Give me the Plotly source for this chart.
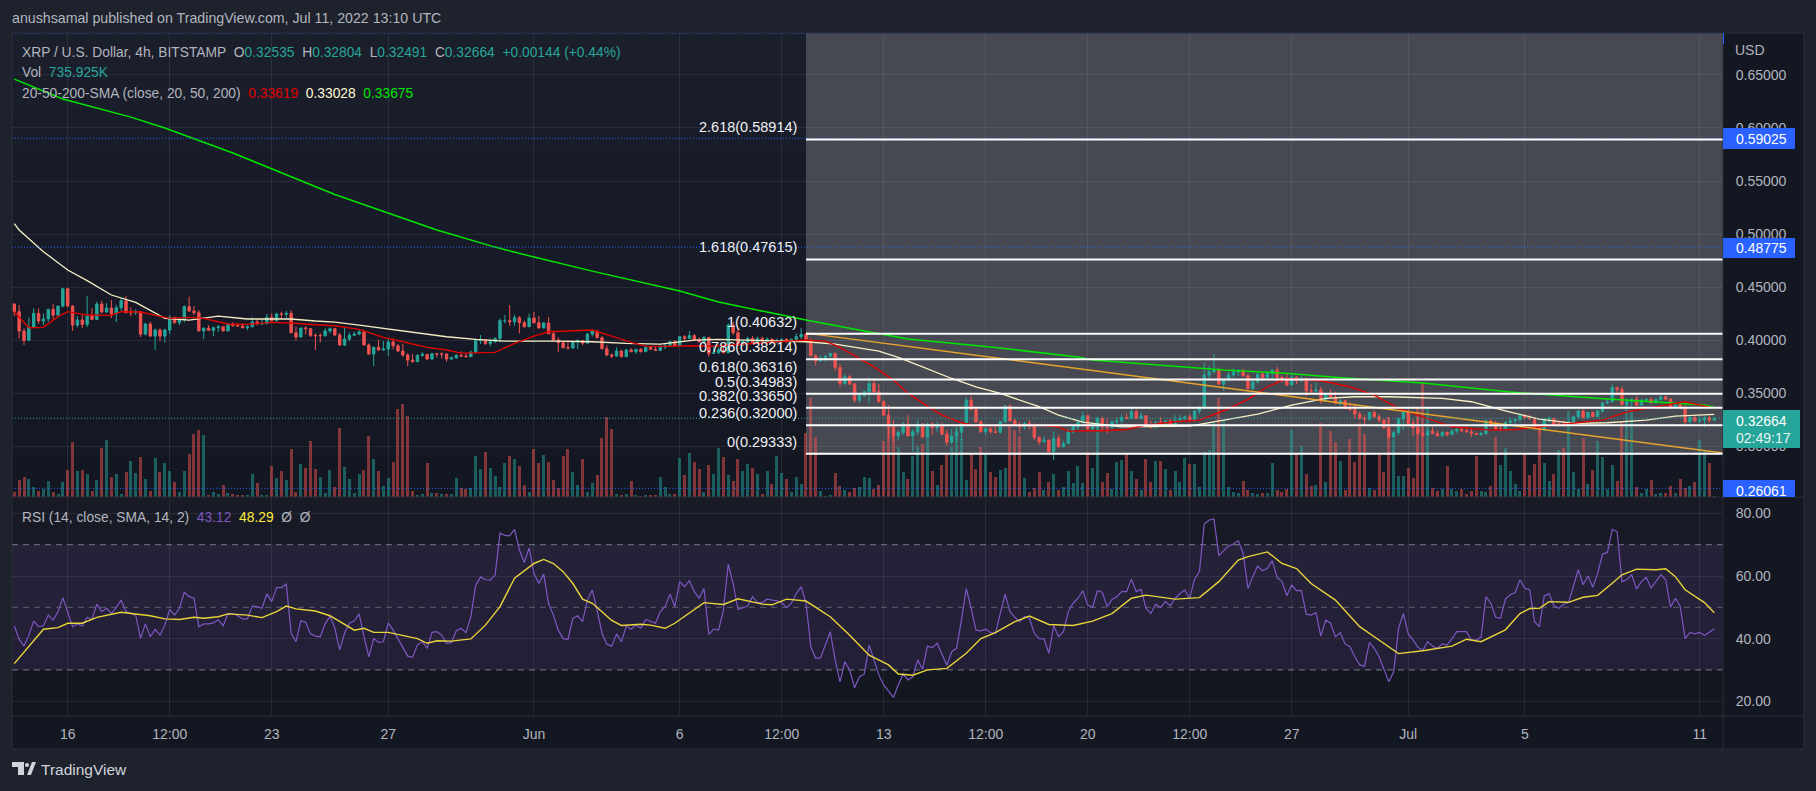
import pandas as pd
import plotly.graph_objects as go

# ---- data (prices in ten-thousandths of a dollar, 4h bars) ----
first_open = 4342
close_e4 = [
4270,4088,4000,4125,4254,4182,4201,4292,4238,4323,
4486,4323,4144,4191,4150,4229,4197,4342,4267,4304,
4251,4307,4373,4260,4260,4270,4059,4154,4040,4097,
4040,4097,4216,4166,4197,4317,4276,4260,4088,4116,
4094,4119,4128,4088,4154,4138,4135,4119,4128,4172,
4154,4157,4216,4185,4248,4245,4254,4072,4031,4116,
4110,4047,4044,4044,4088,4110,4050,3956,4012,4047,
4059,4081,3956,3871,3934,3909,3918,3984,3949,3899,
3862,3814,3799,3858,3868,3824,3874,3871,3871,3824,
3836,3858,3852,3846,3890,3997,4003,3971,3987,4018,
4185,4185,4175,4213,4166,4128,4210,4166,4116,4163,
4062,4003,3978,3931,3927,3987,3997,3974,4059,4088,
4025,3921,3862,3852,3899,3846,3909,3893,3915,3893,
3934,3915,3905,3937,3953,3987,3949,4034,4018,4044,
4003,3987,4028,3877,3883,3908,3883,4144,4072,3955,
3987,4018,3977,4018,3993,4012,3993,3996,4009,3990,
4009,4034,4056,3993,3855,3808,3830,3852,3877,3745,
3594,3657,3588,3437,3481,3516,3594,3516,3422,3296,
3186,3100,3133,3211,3101,3139,3211,3092,3211,3180,
3193,3117,3040,3100,3135,3224,3437,3349,3233,3139,
3167,3139,3133,3233,3381,3243,3208,3186,3218,3193,
3086,3045,3061,2951,3076,2998,3029,3139,3186,3233,
3290,3170,3186,3265,3186,3180,3233,3243,3274,3265,
3328,3265,3290,3202,3180,3230,3202,3240,3208,3249,
3265,3280,3249,3334,3365,3673,3704,3720,3588,3632,
3673,3704,3720,3667,3544,3610,3682,3651,3689,3720,
3651,3626,3579,3651,3620,3641,3525,3522,3532,3431,
3494,3463,3406,3431,3359,3349,3306,3265,3258,3321,
3280,3249,3177,3092,3130,3265,3328,3218,3177,3123,
3108,3145,3123,3101,3133,3114,3145,3161,3149,3139,
3123,3114,3123,3243,3202,3164,3164,3227,3243,3255,
3290,3271,3265,3170,3155,3258,3265,3211,3211,3208,
3224,3280,3334,3271,3321,3280,3334,3412,3422,3554,
3538,3397,3422,3444,3390,3437,3444,3412,3444,3469,
3447,3368,3397,3368,3233,3274,3240,3249,3271,3249,3266]
high_e4 = [
4348,4332,4113,4216,4301,4301,4254,4292,4342,4323,
4493,4464,4332,4229,4248,4417,4301,4364,4373,4348,
4380,4332,4395,4417,4310,4292,4276,4166,4175,4113,
4113,4110,4238,4223,4207,4329,4411,4323,4285,4116,
4144,4128,4144,4128,4160,4169,4160,4160,4141,4216,
4204,4197,4248,4254,4260,4270,4276,4285,4128,4116,
4135,4107,4066,4066,4113,4122,4113,4072,4122,4072,
4081,4097,4097,3971,3940,4003,3993,4018,4018,3965,
3965,3877,3871,3871,3890,3861,3877,3877,3887,3877,
3846,3871,3896,3883,3902,4018,4050,4009,4018,4028,
4207,4238,4332,4238,4229,4185,4254,4267,4229,4175,
4220,4081,4028,3984,3997,3997,4009,4003,4072,4103,
4097,4040,3956,3877,3934,3912,3921,3927,3921,3927,
3943,3946,3940,3965,3971,3997,4003,4040,4050,4088,
4059,4028,4040,4028,3946,3934,3955,4160,4175,4113,
4003,4034,4040,4034,4034,4028,4021,4018,4018,4021,
4018,4065,4116,4065,4015,3871,3861,3861,3883,3883,
3777,3682,3673,3601,3494,3525,3651,3641,3588,3437,
3390,3249,3155,3233,3296,3161,3255,3218,3224,3233,
3233,3224,3155,3170,3170,3233,3463,3475,3381,3249,
3186,3186,3211,3243,3390,3397,3265,3233,3233,3249,
3218,3098,3098,3067,3139,3108,3055,3170,3200,3250,
3330,3300,3233,3280,3280,3265,3243,3280,3302,3312,
3375,3349,3328,3296,3243,3240,3274,3249,3265,3296,
3296,3290,3306,3343,3381,3789,3758,3871,3745,3641,
3704,3736,3726,3726,3689,3616,3689,3704,3711,3730,
3751,3673,3689,3673,3663,3663,3641,3588,3601,3563,
3506,3538,3516,3444,3444,3422,3406,3328,3296,3328,
3343,3306,3265,3280,3155,3274,3343,3359,3255,3280,
3186,3161,3186,3149,3149,3139,3161,3174,3180,3186,
3174,3133,3139,3255,3255,3243,3211,3240,3274,3265,
3302,3306,3296,3265,3192,3265,3280,3271,3255,3249,
3249,3290,3343,3349,3328,3328,3343,3422,3453,3585,
3563,3569,3453,3453,3475,3444,3453,3463,3453,3478,
3475,3450,3406,3422,3390,3287,3296,3287,3287,3290,3280]
low_e4 = [
4229,4018,3956,3997,4122,4154,4144,4172,4197,4241,
4310,4310,4088,4122,4116,4125,4191,4216,4254,4260,
4210,4172,4279,4254,4229,4238,4031,4047,4034,3909,
3993,3978,4059,4160,4144,4169,4267,4238,4088,4012,
4088,4040,4081,4088,4097,4132,4128,4113,4097,4122,
4141,4154,4160,4179,4176,4204,4210,4066,3997,4028,
4056,4031,3909,3981,4034,4066,4044,3949,3946,3993,
4040,4047,3956,3865,3758,3902,3902,3852,3915,3893,
3846,3758,3792,3808,3846,3818,3818,3840,3830,3799,
3818,3824,3846,3840,3855,3871,3965,3956,3946,3978,
3981,4160,4135,4138,4066,4122,4128,4160,4113,4113,
4059,3997,3890,3924,3915,3924,3918,3956,3971,4034,
4018,3915,3852,3833,3849,3843,3849,3887,3874,3887,
3890,3909,3902,3912,3915,3946,3940,3946,3997,4012,
3993,3978,3965,3846,3877,3871,3877,3918,4050,3946,
3955,3955,3965,3977,3984,3981,3977,3971,3977,3971,
3981,3996,4012,3987,3852,3761,3798,3798,3836,3711,
3557,3579,3579,3412,3412,3469,3406,3506,3415,3290,
3076,3045,3061,3108,3092,2950,3108,3076,3092,3108,
3139,3108,3010,3020,3040,3061,3218,3343,3224,3130,
3108,3123,3123,3123,3224,3233,3192,3123,3161,3161,
3061,3014,3039,2948,2872,2992,2992,3023,3120,3150,
3200,3150,3139,3155,3139,3123,3170,3186,3218,3258,
3258,3258,3258,3192,3170,3180,3186,3196,3186,3211,
3224,3243,3233,3233,3306,3353,3632,3689,3579,3525,
3610,3651,3663,3657,3538,3538,3594,3632,3648,3632,
3594,3601,3572,3572,3588,3610,3475,3494,3516,3400,
3431,3453,3400,3381,3349,3337,3262,3249,3202,3243,
3274,3224,3170,3076,3076,3108,3155,3202,3098,3108,
3098,3101,3117,3095,3098,3098,3108,3123,3136,3130,
3092,3108,3101,3108,3186,3149,3145,3155,3202,3211,
3224,3258,3249,3155,3123,3155,3224,3202,3199,3199,
3199,3218,3258,3265,3271,3274,3280,3321,3400,3415,
3484,3384,3390,3359,3384,3390,3415,3400,3415,3431,
3437,3362,3362,3359,3192,3218,3233,3224,3180,3224,3249]
volume_m = [
2.5,8.5,10,9,5,3,4,8,2.5,1.5,
7.5,13.5,27.5,13,13.5,11.5,3,8.5,24.5,28.5,
10,11.5,1.5,12.5,18,12,20,9,3,19.5,
12.5,17,13,7.5,2.5,13,21.5,31.5,33.5,31,
1,2.5,1.5,6,2,1.5,1,1,1,11.5,
7,1,1,15.5,9.5,13,8.5,24,2.5,16.5,
14.5,28,14,10,2,13.5,5,34.5,15,9,
2,11.5,13.5,30.5,19,13,5.5,9.5,17.5,44,
46.5,40.5,3,1,1.5,17,2,2,1.5,1.5,
1.5,9.5,4.5,4,4.5,20.5,14,22.5,14.5,10.5,
5,17,20.5,19,15.5,6,2.5,24,17,21,
17.5,8.5,4.5,20.5,24,12.5,6,19,2.5,7,
11,29.5,40,34,1.5,1,1.5,8,1,0.5,
1,1,1,10,5,1.5,1.5,19.5,11,22,
17.5,14,2.5,16,11.5,24.5,20,11,8,19,
13,16.5,14.5,11.5,1.5,13,6.5,20.5,12,9,
2.5,10,6.5,32,49.5,30,3,0.5,1,12,
5.5,3.5,2.5,4.5,5,10,9.5,4,6,28,
40,35,25,12.5,9,20.5,25.5,26.5,35,13,
6,16,21.5,25,35,29,8.5,21.5,14,25,
21.5,12.5,10,13.5,14.5,36,33.5,30.5,9.5,2.5,
4.5,12.5,3.5,7.5,11.5,3.5,5,13,7,15.5,
7,22.5,14.5,36,7.5,12,4,17.5,18.5,22,
13,9,3.5,19,7.5,18,18,14,3.5,13,
7.5,19.5,16.5,16.5,5,22.5,23.5,37.5,49.5,38.5,
5,2.5,2,8,3.5,2,1.5,2,2,17,
3.5,2.5,4,33.5,21.5,25.5,11.5,5.5,6,37,
7.5,33,27.5,18,3.5,29,17.5,37,31.5,4.5,
3.5,21,12.5,40,29,10.5,10.5,14.5,9.5,45,
57.5,44.5,4.5,3,4,15.5,4,3,4,1.5,
3,20.5,3,2.5,5.5,30,16,24.5,13,6.5,
3,21.5,11,16.5,34,17,8,11.5,23.5,24.5,
43,12.5,4,29.5,6.5,13.5,28,20,4,16,
8,37.5,47.5,43.5,5,2,4,8.5,1.5,2,
2,5.5,2,9,4.5,5.5,7.5,28.5,23.5,17,0.736]
rsi_values = [
44,39.8,37.6,41.1,45.6,43.8,44.1,47.5,45.9,48.6,
53,48.6,43.8,44.7,44,46.8,46.1,51,48.6,49.7,
48,50,52.3,48.6,48,47.5,40,44.7,40.6,43,
41.1,44.3,49.3,47.5,49.7,54.8,53.4,52.9,43.8,44.7,
44.7,45,46,44.1,48,48,47.3,46.3,46.3,50.4,
50.2,49.7,54.3,51.8,56.3,56.3,57.4,41.7,39,45.7,
45.2,41.5,40.8,40.6,44.7,47.2,43.3,36.4,41.7,44.9,
45.7,47.9,40.6,34.2,40,38.8,39,45,42.7,40,
37.4,34.4,34,38,39,36.9,42,42.2,41.1,38.5,
38.7,42.5,43.3,41.9,47,57,59.7,58.8,58.7,60.3,
73.7,73,72.8,74.9,68.3,64.3,69,
60.8,57.6,60.6,51.2,47.5,42.7,40,39.8,46.5,47.3,
45.4,52.3,55.5,49.1,41.7,38.2,37.6,41.5,39,44,
43,44.3,43.3,46.1,45.6,44.9,48.6,50.2,54.2,50.2,
58.2,56.6,58.5,55,52.9,56,41.3,43,42.7,49.1,
63.8,57.6,49.3,49.9,50.4,53.4,51.5,51.5,52.6,52.3,
52.1,51.5,49.9,51.3,54.4,56.6,51.3,37.4,33.7,33.9,
37.9,42.2,33.2,26.2,32.6,30,24.3,27.8,28.7,37.9,
33.2,28.4,25.2,23,21.2,25.2,28.7,26.8,27.8,33.2,
30.2,37.6,37.1,38.5,34.8,31.5,35.8,36.9,45.9,56,
49.7,42.7,42.5,43,41.9,41.7,48,54.2,48.6,46.8,
45.4,47,46.5,41.7,40,39.9,35.3,44.1,40.6,42.2,
48.6,51.3,52.9,55.3,50.7,50,55.3,54.8,50.2,52.5,
53.4,55,55,59,55,55.7,49.7,48,51,49.9,
51.8,50.5,52.9,54.4,55.5,52.9,59,61.4,
76.6,77.9,78.2,66.5,68.1,69.6,70.2,71.3,67.2,56,
59.8,63.2,61.7,62.5,64.9,59.5,58.2,53.7,57.1,55.3,
55.3,47.8,47.5,48.3,40.8,45.9,44.9,40.6,41.9,38.3,
37.4,34.2,31.6,31.2,38.8,36.9,34.2,30,26.2,29.4,
43.3,48,41.5,39.5,37.2,36.3,39,37.6,36.9,38.3,
37.9,40,42.2,42.2,42.2,39.5,39.5,40.5,53.4,51.3,
46.8,46.5,52.6,54,54.7,58.8,56.1,55.6,45.4,43.8,
53.6,54.3,50.4,49.7,51,51.5,57.2,62,57.2,60,
56.4,60.9,67,67.5,74.9,74.2,58.2,58.8,60.4,55.8,
58.2,59.6,56.1,58.2,60.4,58.8,50,52.9,50.2,40,
42,41.5,42,41,42,43.12]

rsi_ma_bar = [0,6,9,11,14,17,22,25,28,31,34,37,39,42,44,48,51,54,56,58,62,65,67,70,72,74,77,80,83,85,87,90,94,97,100,103,107,109,111,113,115,117,119,121,123,125,129,131,134,136,140,142,146,149,154,156,159,163,168,172,176,180,182,185,188,192,196,199,202,206,209,213,218,222,226,230,233,239,244,248,252,254,258,261,264,267,272,277,280,285,290,296,299,302,307,310,312,314,316,320,323,326,329,331,334,338,340,342,344,348,350]
rsi_ma_val = [32,43,43.5,44.9,44.9,46.8,48.4,47.9,47.3,46.3,46.1,46.8,46.5,47,47.9,47.5,46.7,48.6,50.4,49.5,48.8,47.3,45.4,42.7,43.3,42,42,41.1,40,38.5,39.3,39.2,39.9,44.3,50.2,59.3,64,65.3,64,61.4,57.6,52.6,51.3,48.6,45.8,44.2,44.6,44.3,43.3,44.9,49.3,51.5,50.9,52.7,51,50.8,52.6,52,47,41.1,34.7,31.6,28.7,28.3,30,30.5,35.3,40,41.9,45.4,47.2,44.5,44.2,45.6,48,52.9,53.9,52.6,53.1,58.2,65.1,66.2,67.7,64,62.4,57.6,52.3,43.8,40.6,35.2,36.1,37.6,39.8,39,42.8,48,49.6,49.7,51.8,51.6,53.2,53.8,57.7,60.4,62.2,62,62.3,59.8,55.6,51.5,48.29]

sma20_bar = [0,3,6,9,11,15,20,22,26,29,32,36,39,44,48,53,57,62,66,71,76,80,85,89,92,99,103,107,110,114,119,123,127,130,134,140,144,163,167,170,173,177,181,184,188,191,195,198,205,210,215,217,221,224,229,233,239,244,249,254,258,262,269,275,280,285,290,294,296,304,309,314,320,327,332,338,344,350]
sma20_e4 = [4270,4119,4122,4223,4270,4238,4235,4270,4267,4238,4207,4216,4207,4154,4150,4169,4163,4147,4138,4103,4028,3987,3934,3909,3880,3887,3971,4040,4081,4088,4097,4040,3981,3946,3943,3949,3946,4003,3993,3934,3852,3751,3626,3500,3381,3296,3224,3193,3202,3202,3186,3145,3149,3149,3161,3202,3233,3249,3337,3444,3563,3641,3620,3563,3484,3359,3280,3218,3186,3155,3161,3186,3218,3249,3327,3375,3422,3362]
sma50_bar = [0,1,6,11,15,20,25,28,31,36,42,48,57,62,66,71,77,83,89,95,101,112,119,126,133,140,145,163,169,178,182,187,193,198,203,211,215,220,228,242,249,256,263,270,276,283,294,300,307,314,321,328,336,342,350]
sma50_e4 = [5100,5039,4835,4662,4562,4427,4358,4285,4207,4191,4229,4201,4201,4182,4172,4144,4106,4072,4034,4009,3993,3993,3987,3971,3965,4003,4009,3987,3965,3899,3839,3751,3641,3563,3500,3375,3296,3230,3186,3192,3249,3306,3390,3453,3469,3469,3453,3422,3337,3258,3218,3224,3249,3287,3303]
sma200_bar = [0,10,24,31,45,66,87,99,107,119,137,145,156,163,175,182,184,201,219,222,235,249,261,274,290,304,308,328,348,350]
sma200_e4 = [6460,6272,6102,5999,5764,5373,5039,4878,4784,4652,4464,4361,4257,4191,4088,4032,4012,3938,3843,3815,3768,3720,3692,3645,3598,3532,3513,3447,3391,3367]

fib_levels = ["2.618","1.618","1","0.786","0.618","0.5","0.382","0.236","0"]
fib_prices = [0.58914,0.47615,0.40632,0.38214,0.36316,0.34983,0.33650,0.32000,0.29333]
price_ticks = [0.30,0.35,0.40,0.45,0.50,0.55,0.60,0.65]
rsi_ticks = [20,40,60,80]
time_tick_dates = ["2022-05-16","2022-05-19 12:00","2022-05-23","2022-05-27","2022-06-01","2022-06-06","2022-06-09 12:00","2022-06-13","2022-06-16 12:00","2022-06-20","2022-06-23 12:00","2022-06-27","2022-07-01","2022-07-05","2022-07-11"]
time_tick_text = ["16","12:00","23","27","Jun","6","12:00","13","12:00","20","12:00","27","Jul","5","11"]
trend_prices = [0.4068, 0.2939]

n = len(close_e4)
lens = {k: len(v) for k, v in dict(c=close_e4, h=high_e4, l=low_e4, v=volume_m, r=rsi_values).items()}
assert all(v == 351 for v in lens.values()), str(lens)
assert len(rsi_ma_bar) == len(rsi_ma_val), (len(rsi_ma_bar), len(rsi_ma_val))
assert len(sma20_bar) == len(sma20_e4), (len(sma20_bar), len(sma20_e4))
assert len(sma50_bar) == len(sma50_e4), (len(sma50_bar), len(sma50_e4))
assert len(sma200_bar) == len(sma200_e4), (len(sma200_bar), len(sma200_e4))

# ---- derived ----
dates = pd.date_range("2022-05-14 04:00", periods=n, freq="4h")
closes = [v / 1e4 for v in close_e4]
opens = [first_open / 1e4] + closes[:-1]
highs = [max(v / 1e4, o, c) for v, o, c in zip(high_e4, opens, closes)]
lows = [min(v / 1e4, o, c) for v, o, c in zip(low_e4, opens, closes)]
step = pd.Timedelta(hours=4)
x_left = dates[0] - 0.47 * step
x_right = dates[0] + 351.8 * step
fib_start = dates[163]

W, H = 1816, 791
PX = lambda v: v / W
PY = lambda v: 1 - v / H
TEAL, RED = "#26a69a", "#ef5350"
TXT = "#b2b5be"
FONT = "Liberation Sans"

fig = go.Figure()
vol_colors = ["rgba(38,166,154,0.5)" if c >= o else "rgba(239,83,80,0.5)" for o, c in zip(opens, closes)]
fig.add_trace(go.Bar(x=dates, y=volume_m, marker=dict(color=vol_colors, line_width=0), width=3 * 4 * 3600 * 1000 / 4.857, yaxis="y", hoverinfo="skip"))
fig.add_trace(go.Candlestick(x=dates, open=opens, high=highs, low=lows, close=closes, yaxis="y2",
    increasing=dict(line=dict(color=TEAL, width=1), fillcolor=TEAL),
    decreasing=dict(line=dict(color=RED, width=1), fillcolor=RED),
    whiskerwidth=0, hoverinfo="skip"))
for bars, vals, col, w in [(sma200_bar, sma200_e4, "#00e600", 1.5), (sma50_bar, sma50_e4, "#f6efc4", 1.3), (sma20_bar, sma20_e4, "#e00000", 1.4)]:
    fig.add_trace(go.Scatter(x=dates[bars], y=[v / 1e4 for v in vals], yaxis="y2", mode="lines", line=dict(color=col, width=w), hoverinfo="skip"))
fig.add_trace(go.Scatter(x=[fib_start, x_right], y=trend_prices, yaxis="y2", mode="lines", line=dict(color="#e8a32a", width=1.5), hoverinfo="skip"))
fig.add_trace(go.Scatter(x=dates, y=rsi_values, yaxis="y3", mode="lines", line=dict(color="#7e57c2", width=1.2), hoverinfo="skip"))
fig.add_trace(go.Scatter(x=dates[rsi_ma_bar], y=rsi_ma_val, yaxis="y3", mode="lines", line=dict(color="#e8d53a", width=1.4), hoverinfo="skip"))

shapes = []
def rect(x0, y0, x1, y1, col, layer="below"):
    shapes.append(dict(type="rect", xref="paper", yref="paper", x0=PX(x0), x1=PX(x1), y0=PY(y1), y1=PY(y0), fillcolor=col, line_width=0, layer=layer))

# pane backgrounds with the soft vertical gradient
rect(12, 33, 1804, 749, "#131722")
for k in range(12):
    t = k / 12
    c = "rgb(%d,%d,%d)" % (27 - 8 * t, 30 - 7 * t, 43 - 9 * t)
    rect(12, 33 + 464 * k / 12, 1723, 33 + 464 * (k + 1) / 12 + 1, c)
for k in range(8):
    t = k / 8
    c = "rgb(%d,%d,%d)" % (24 - 6 * t, 27 - 5 * t, 38 - 7 * t)
    rect(12, 497 + 219 * k / 8, 1723, 497 + 219 * (k + 1) / 8 + 1, c)
# Fibonacci background
shapes.append(dict(type="rect", xref="x", yref="y2", x0=fib_start, x1=x_right, y0=fib_prices[-1], y1=0.6894, fillcolor="#464952", line_width=0, layer="below"))
# RSI band and levels
shapes.append(dict(type="rect", xref="x", yref="y3", x0=x_left, x1=x_right, y0=30, y1=70, fillcolor="rgba(126,87,194,0.14)", line_width=0, layer="below"))
for lv, col in [(70, "#787b86"), (50, "#5d5f6b"), (30, "#787b86")]:
    shapes.append(dict(type="line", xref="x", yref="y3", x0=x_left, x1=x_right, y0=lv, y1=lv, line=dict(color=col, width=1, dash="6px,5px"), layer="below"))
# price lines
for p, col in [(0.6888, "#2962ff"), (0.59025, "#2962ff"), (0.48775, "#2962ff"), (0.26061, "#2962ff"), (0.32664, TEAL)]:
    shapes.append(dict(type="line", xref="x", yref="y2", x0=x_left, x1=x_right, y0=p, y1=p, line=dict(color=col, width=1, dash="1px,2px"), layer="above"))
# fib lines
for p in fib_prices:
    shapes.append(dict(type="line", xref="x", yref="y2", x0=fib_start, x1=x_right, y0=p, y1=p, line=dict(color="#ffffff", width=2), layer="above"))
# separators
for x0, y0, x1, y1 in [(12, 33, 1804, 33), (12, 33, 12, 749), (1804, 33, 1804, 749), (12, 749, 1804, 749), (12, 497, 1804, 497), (12, 716, 1804, 716), (1723, 33, 1723, 749)]:
    shapes.append(dict(type="line", xref="paper", yref="paper", x0=PX(x0), x1=PX(x1), y0=PY(y0), y1=PY(y1), line=dict(color="#2a2e39", width=1), layer="above"))
# price tags
rect(1723, 128, 1795, 149, "#2962ff", "above")
rect(1723, 238, 1795, 258, "#2962ff", "above")
rect(1723, 410, 1800, 448, TEAL, "above")
rect(1723, 480, 1795, 497, "#2962ff", "above")
rect(1723, 33, 1724, 44, "#2962ff", "above")
# TradingView mark
rect(12, 762, 24, 767, "#d1d4dc", "above")
rect(18, 762, 24, 775, "#d1d4dc", "above")
shapes.append(dict(type="circle", xref="paper", yref="paper", x0=PX(25), x1=PX(29), y0=PY(767), y1=PY(763), fillcolor="#d1d4dc", line_width=0))
shapes.append(dict(type="path", xref="paper", yref="paper", path="M %f %f L %f %f L %f %f L %f %f Z" % (PX(27), PY(775), PX(32), PY(762), PX(36), PY(762), PX(31), PY(775)), fillcolor="#d1d4dc", line_width=0))

ann = []
def text(x, y, s, size=13.8, col=TXT, anchor="left"):
    ann.append(dict(xref="paper", yref="paper", x=PX(x), y=PY(y), text=s, showarrow=False, xanchor=anchor, yanchor="middle", font=dict(size=size, color=col, family=FONT), align=anchor))

def span(s, c):
    return '<span style="color:%s">%s</span>' % (c, s)

text(10, 18, "anushsamal published on TradingView.com, Jul 11, 2022 13:10 UTC", 14.2)
text(20, 52, "XRP / U.S. Dollar, 4h, BITSTAMP&#160;&#160;O" + span("0.32535", TEAL) + "&#160;&#160;H" + span("0.32804", TEAL) + "&#160;&#160;L" + span("0.32491", TEAL) + "&#160;&#160;C" + span("0.32664", TEAL) + "&#160;&#160;" + span("+0.00144 (+0.44%)", TEAL))
text(20, 72, "Vol&#160;&#160;" + span("735.925K", TEAL))
text(20, 93, "20-50-200-SMA (close, 20, 50, 200)&#160;&#160;" + span("0.33619", "#e00000") + "&#160;&#160;" + span("0.33028", "#fff8d2") + "&#160;&#160;" + span("0.33675", "#00e600"))
text(20, 517, "RSI (14, close, SMA, 14, 2)&#160;&#160;" + span("43.12", "#7e57c2") + "&#160;&#160;" + span("48.29", "#ffeb3b") + "&#160;&#160;Ø&#160;&#160;Ø")
text(1733, 50, "USD", 14)
text(1734, 139, "0.59025", 14, "#ffffff")
text(1734, 248, "0.48775", 14, "#ffffff")
text(1734, 421, "0.32664", 14, "#ffffff")
text(1734, 438, "02:49:17", 14, "#e6f5f3")
text(1734, 491, "0.26061", 14, "#ffffff")
text(39, 769, "TradingView", 15.5, "#d1d4dc")
for lv, p in zip(fib_levels, fib_prices):
    ann.append(dict(xref="paper", yref="y2", x=PX(799), y=p, yshift=12, text="%s(%.5f)" % (lv, p), showarrow=False, xanchor="right", yanchor="middle", font=dict(size=14.5, color="#f0f1f4", family=FONT)))

grid = "rgba(240,243,250,0.08)"
price_dom = [PY(497), PY(33)]
rsi_dom = [PY(716), PY(497)]
fig.update_layout(
    width=W, height=H, margin=dict(l=0, r=0, t=0, b=0), autosize=False,
    paper_bgcolor="#1e222d", plot_bgcolor="rgba(0,0,0,0)", showlegend=False, bargap=0,
    font=dict(family=FONT, size=14, color=TXT), hovermode=False,
    shapes=shapes, annotations=ann,
    xaxis=dict(domain=[PX(12), PX(1723)], range=[x_left, x_right], anchor="y3", rangeslider=dict(visible=False),
               tickmode="array", tickvals=time_tick_dates, ticktext=time_tick_text, ticks="outside", ticklen=5, tickcolor="rgba(0,0,0,0)",
               showgrid=True, gridcolor=grid, gridwidth=1, zeroline=False, showline=False, tickfont=dict(size=14, color=TXT, family=FONT), tickangle=0),
    yaxis=dict(domain=price_dom, range=[0, 232], visible=False, showgrid=False, zeroline=False, fixedrange=True),
    yaxis2=dict(domain=price_dom, range=[0.2525, 0.6894], overlaying="y", side="right", anchor="x", tickmode="array", tickvals=price_ticks,
                tickformat=".5f", ticks="outside", ticklen=9, tickcolor="rgba(0,0,0,0)", showgrid=True, gridcolor=grid, zeroline=False, showline=False,
                tickfont=dict(size=14, color=TXT, family=FONT)),
    yaxis3=dict(domain=rsi_dom, range=[15.27, 85.24], side="right", anchor="x", tickmode="array", tickvals=rsi_ticks, tickformat=".2f",
                ticks="outside", ticklen=9, tickcolor="rgba(0,0,0,0)", showgrid=True, gridcolor=grid, zeroline=False, showline=False,
                tickfont=dict(size=14, color=TXT, family=FONT)),
)
fig.write_html("out.html", config=dict(displayModeBar=False, staticPlot=True),
               post_script="document.body.style.margin='0';document.documentElement.style.overflow='hidden';document.body.style.background='#1e222d';")
